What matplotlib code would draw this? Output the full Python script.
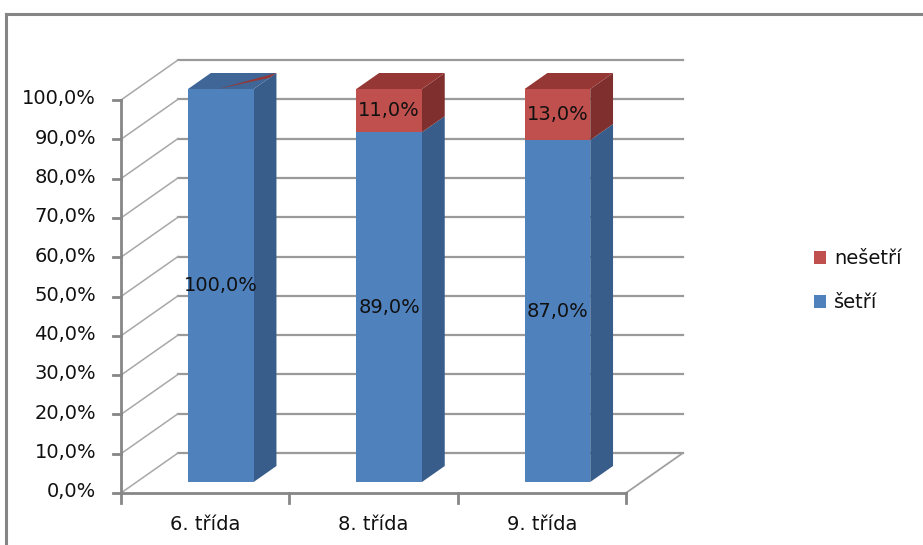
import matplotlib.pyplot as plt
from matplotlib.patches import Polygon, Rectangle
from matplotlib.lines import Line2D

# ---------------- data ----------------
categories = ['6. třída', '8. třída', '9. třída']
setri = [100.0, 89.0, 87.0]
nesetri = [0.0, 11.0, 13.0]
series_names = ['šetří', 'nešetří']
yticks = list(range(0, 101, 10))

plt.rcParams['font.family'] = ['DejaVu Sans']

# colours (front, side, top)
blue = ('#4F81BD', '#385D8A', '#3F6697')
red = ('#C0504D', '#7F302E', '#953735')

W, H = 923, 545
fig = plt.figure(figsize=(9.23, 5.45), dpi=100)
ax = fig.add_axes([0, 0, 1, 1])

# scale: category units on x, percent on y (front plane)
px_cat = 168.3
px_pct = 3.93
x0px, y0px = 121, 493
ax.set_xlim(-x0px / px_cat, (W - x0px) / px_cat)
ax.set_ylim((y0px - H) / px_pct, y0px / px_pct)
ax.axis('off')

# oblique depth offset (z = 0 front, z = 1 back wall)
DX = 57 / px_cat
DY = 40 / px_pct


def proj(x, y, z):
    return (x + z * DX, y + z * DY)


ncat = len(categories)
grid_c = '#9a9a9a'
axis_c = '#868686'

# ---------- walls / gridlines ----------
for v in yticks:
    # back wall line
    ax.plot([proj(0, v, 1)[0], proj(ncat, v, 1)[0]], [v + DY, v + DY],
            color=grid_c, lw=1.6, zorder=1)
    # side wall diagonal
    ax.plot([0, DX], [v, v + DY], color='#a8a8a8', lw=1.1, zorder=1)
    # y tick
    ax.plot([-8 / px_cat, 0], [v, v], color=axis_c, lw=2, zorder=2)
    ax.text(-25 / px_cat, v + 0.3, ('%.1f%%' % v).replace('.', ','),
            ha='right', va='center', fontsize=14, color='#111111')

# floor
ax.plot([0, ncat], [0, 0], color=axis_c, lw=2, zorder=2)
ax.plot([ncat, ncat + DX], [0, DY], color='#a0a0a0', lw=1.3, zorder=1)
ax.plot([0, 0], [0, 100], color=axis_c, lw=2, zorder=2)
for i in range(ncat + 1):
    ax.plot([i, i], [0, -10 / px_pct], color=axis_c, lw=2, zorder=2)
for i, c in enumerate(categories):
    ax.text(i + 0.5, -31 / px_pct, c, ha='center', va='center', fontsize=14,
            color='#111111')

# ---------- bars ----------
bw = 0.39
zf, zb = 0.275, 0.675


def box(i, y_lo, y_hi, cols, top=True):
    xl = i + 0.5 - bw / 2
    xr = i + 0.5 + bw / 2
    side = [proj(xr, y_lo, zf), proj(xr, y_lo, zb), proj(xr, y_hi, zb), proj(xr, y_hi, zf)]
    front = [proj(xl, y_lo, zf), proj(xr, y_lo, zf), proj(xr, y_hi, zf), proj(xl, y_hi, zf)]
    ax.add_patch(Polygon(side, closed=True, fc=cols[1], ec='none', zorder=3))
    ax.add_patch(Polygon(front, closed=True, fc=cols[0], ec='none', zorder=3))
    if top:
        tp = [proj(xl, y_hi, zf), proj(xr, y_hi, zf), proj(xr, y_hi, zb), proj(xl, y_hi, zb)]
        ax.add_patch(Polygon(tp, closed=True, fc=cols[2], ec='none', zorder=3))


for i in range(ncat):
    b = setri[i]
    r = nesetri[i]
    box(i, 0, b, blue, top=(r == 0))
    if r > 0:
        box(i, b, b + r, red)
    else:
        # thin red sliver of the empty segment on top
        xl = i + 0.5 - bw / 2
        xr = i + 0.5 + bw / 2
        sl = [proj(xl + 0.45 * bw, b, zf), proj(xr, b, zb), proj(xr, b, zb - 0.12)]
        ax.add_patch(Polygon(sl, closed=True, fc=red[2], ec='none', zorder=4))
    # data labels
    xc = proj(i + 0.5, 0, zf)[0]
    ax.text(xc, b / 2 + zf * DY, ('%.1f%%' % b).replace('.', ','),
            ha='center', va='center', fontsize=14, color='#111111', zorder=5)
    if r > 0:
        ax.text(xc, b + r / 2 + zf * DY, ('%.1f%%' % r).replace('.', ','),
                ha='center', va='center', fontsize=14, color='#111111', zorder=5)

# ---------- legend ----------
leg = [(series_names[1], red[0], 258), (series_names[0], blue[0], 302)]
for name, col, ypx in leg:
    fig.add_artist(Rectangle((814 / W, 1 - (ypx + 6) / H), 12 / W, 13 / H,
                             transform=fig.transFigure, fc=col, ec='none'))
    fig.text(834 / W, 1 - ypx / H, name, ha='left', va='center', fontsize=14,
             color='#111111')

# ---------- chart frame ----------
fig.add_artist(Line2D([6 / W, 6 / W], [0, 1 - 14 / H], transform=fig.transFigure,
                      color='#858585', lw=2.2))
fig.add_artist(Line2D([6 / W, 1], [1 - 14 / H, 1 - 14 / H], transform=fig.transFigure,
                      color='#858585', lw=2.2))

fig.savefig('out.png', dpi=100, facecolor='white')
